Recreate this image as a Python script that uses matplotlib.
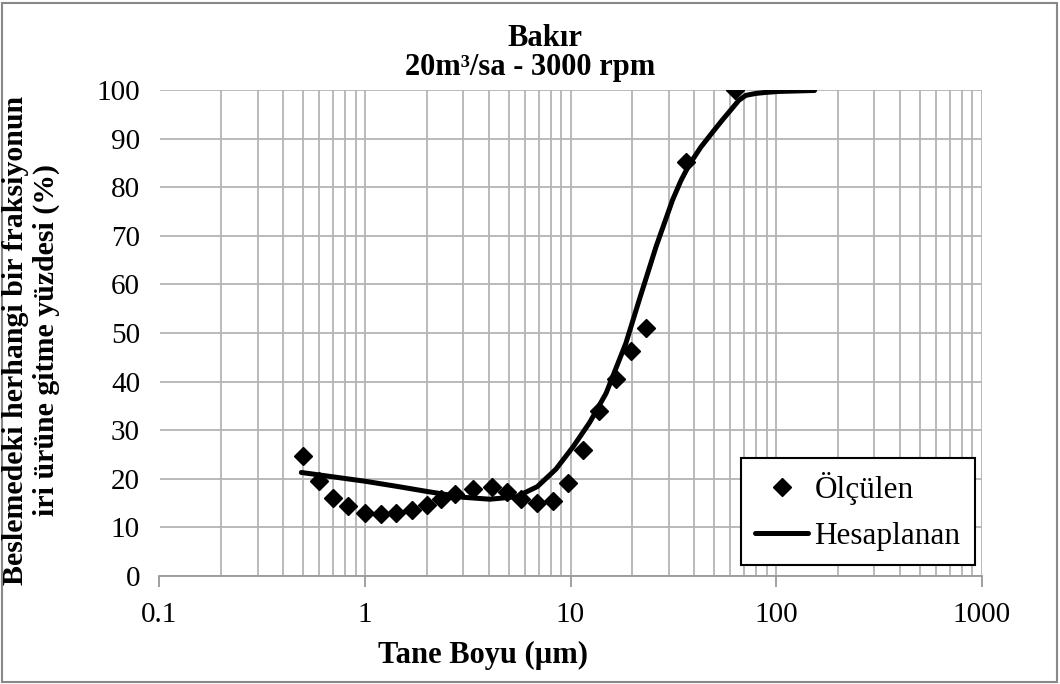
import matplotlib
matplotlib.use("Agg")
import matplotlib.pyplot as plt
from matplotlib.patches import Rectangle
from matplotlib.ticker import LogLocator, FixedLocator, FixedFormatter

plt.rcParams['font.family'] = ['Liberation Serif', 'DejaVu Serif']

# measured points (Ölçülen)
olc_x = [0.5, 0.6, 0.7, 0.83, 1.0, 1.19, 1.42, 1.7, 2.0, 2.34, 2.74, 3.37, 4.13,
         4.89, 5.74, 6.84, 8.24, 9.75, 11.5, 13.8, 16.6, 19.7, 23.3, 36.6, 63.5]
olc_y = [24.7, 19.6, 16.0, 14.4, 13.0, 12.7, 13.0, 13.6, 14.6, 15.8, 16.9, 18.0, 18.4,
         17.3, 15.8, 15.0, 15.5, 19.2, 25.9, 34.0, 40.5, 46.3, 51.1, 85.2, 100.0]

# calculated curve (Hesaplanan)
hes_x = [0.49, 0.7, 1.0, 1.45, 2.0, 3.0, 4.05, 5.45, 6.9, 8.5, 10.3, 12.4, 14.9,
         18.6, 21.6, 26.1, 31.4, 34.5, 37.8, 43.0, 49.1, 55.0, 61.4, 66.0, 71.3,
         80.0, 89.0, 103, 154]
hes_y = [21.3, 20.4, 19.5, 18.4, 17.4, 16.2, 15.8, 16.3, 18.4, 22.0, 26.6, 31.6, 37.6,
         47.9, 56.8, 67.8, 77.4, 81.4, 84.6, 88.2, 91.3, 93.9, 96.3, 97.9, 98.9,
         99.3, 99.5, 99.7, 99.9]

x_ticks = [0.1, 1, 10, 100, 1000]
x_labels = ['0.1', '1', '10', '100', '1000']
y_ticks = list(range(0, 101, 10))

fig = plt.figure(figsize=(10.6, 6.84), dpi=100)
ax = fig.add_axes([159.5 / 1060, 1 - 576 / 684, 822 / 1060, 486 / 684])

grid_c = '#b4b4b4'
ax.set_xscale('log')
ax.set_xlim(0.1, 1000)
ax.set_ylim(0, 100)
ax.xaxis.set_major_locator(FixedLocator(x_ticks))
ax.xaxis.set_major_formatter(FixedFormatter(x_labels))
ax.xaxis.set_minor_locator(LogLocator(base=10, subs=range(2, 10)))
ax.xaxis.set_minor_formatter(plt.NullFormatter())
ax.set_yticks(y_ticks)
ax.grid(True, which='major', color=grid_c, linewidth=1.3)
ax.grid(True, which='minor', axis='x', color=grid_c, linewidth=1.3)
ax.set_axisbelow(True)

for s in ['top', 'right', 'left']:
    ax.spines[s].set_visible(False)
ax.spines['bottom'].set_color('#999999')
ax.spines['bottom'].set_linewidth(1.3)
ax.tick_params(axis='x', which='major', direction='out', length=8, width=1.3,
               color='#999999', labelsize=21, pad=11)
ax.tick_params(axis='x', which='minor', length=0)
ax.tick_params(axis='y', length=0, labelsize=21, pad=14)

ax.plot(olc_x, olc_y, linestyle='none', marker='D', markersize=9,
        color='black', label='Ölçülen', zorder=3)
ax.plot(hes_x, hes_y, color='black', linewidth=3.6, label='Hesaplanan',
        solid_capstyle='round', solid_joinstyle='round', zorder=4)

leg = ax.legend(loc='lower right', bbox_to_anchor=(815 / 822, 11 / 486),
                fontsize=22.5, frameon=True, fancybox=False, handlelength=1.7,
                handletextpad=0.2, borderpad=0.45, labelspacing=0.55,
                borderaxespad=0)
leg.get_frame().set_edgecolor('black')
leg.get_frame().set_linewidth(1.5)
leg.get_frame().set_alpha(1)

fig.text(545 / 1060, 1 - 38 / 684, 'Bakır', ha='center', va='center',
         fontsize=22, fontweight='bold')
fig.text(530 / 1060, 1 - 68 / 684, '20m³/sa - 3000 rpm', ha='center', va='center',
         fontsize=22, fontweight='bold')
fig.text(483 / 1060, 1 - 655 / 684, 'Tane Boyu (µm)', ha='center', va='center',
         fontsize=22, fontweight='bold')
fig.text(31 / 1060, 1 - 340 / 684,
         'Beslemedeki herhangi bir fraksiyonun\niri ürüne gitme yüzdesi (%)',
         ha='center', va='center', rotation=90, fontsize=21.5, fontweight='bold',
         linespacing=1.15)

fig.patches.append(Rectangle((2 / 1060, 2 / 684), 1 - 5 / 1060, 1 - 5 / 684,
                             transform=fig.transFigure, fill=False,
                             edgecolor='#888888', linewidth=1.5))

fig.savefig('out.png', dpi=100)
